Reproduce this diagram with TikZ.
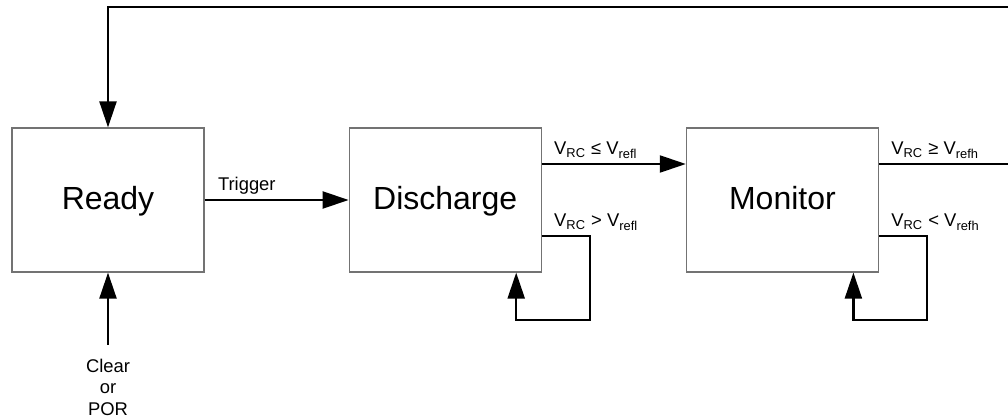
\documentclass[tikz,border=0pt]{standalone}
\usepackage{fontspec}
\setmainfont{Liberation Sans}
\usetikzlibrary{arrows.meta,positioning}

\newcommand{\vrc}{V\textsubscript{RC}}

\begin{document}
\begin{tikzpicture}[
  font=\fontsize{9.2pt}{10.75pt}\selectfont,
  state/.style={draw=black!55, line width=0.6pt, minimum width=96pt, minimum height=72pt,
                inner sep=0pt, text height=11pt, text depth=1pt,
                font=\fontsize{16pt}{18pt}\selectfont},
  lbl/.style={inner sep=0pt, anchor=base west},
  flow/.style={->, line width=1.1pt},
  node distance=72pt,
  >={Triangle[length=13pt, width=8.5pt]},
]
\useasboundingbox (0,0) rectangle (504pt,-208.5pt);
\node[state] (ready) at (54pt,-100pt) {Ready};
\node[state, right=of ready] (dis) {Discharge};
\node[state, right=of dis] (mon) {Monitor};
\node[below=36pt of ready, align=center, inner xsep=0pt, inner ysep=7pt] (clr) {Clear\\or\\POR};
% transitions
\draw[flow] (clr) -- (ready);
\draw[flow] (ready) -- (dis);
\node[lbl] (trig) at ([xshift=6.5pt,yshift=4.5pt]ready.east) {Trigger};
\draw[flow] ([yshift=18pt]dis.east) -- ([yshift=18pt]mon.west);
\node[lbl] (dlo) at ([xshift=6pt,yshift=22.5pt]dis.east) {\vrc{} ≤ V\textsubscript{refl}};
\draw[flow] ([yshift=-18pt]dis.east) -- ++(24pt,0) |- ([xshift=35.5pt,yshift=-23.5pt]dis.south)
  -- ([xshift=35.5pt]dis.south);
\node[lbl] (dhi) at ([xshift=6pt,yshift=-13.5pt]dis.east) {\vrc{} > V\textsubscript{refl}};
\draw[flow] ([yshift=-18pt]mon.east) -- ++(24pt,0) |- ([xshift=35.5pt,yshift=-23.5pt]mon.south)
  -- ([xshift=35.5pt]mon.south);
\node[lbl] (mlo) at ([xshift=6pt,yshift=-13.5pt]mon.east) {\vrc{} < V\textsubscript{refh}};
\draw[flow] ([yshift=18pt]mon.east) -- ([xshift=67pt,yshift=18pt]mon.east)
  |- ([yshift=60pt]ready.north) -- (ready.north);
\node[lbl] (mhi) at ([xshift=6pt,yshift=22.5pt]mon.east) {\vrc{} ≥ V\textsubscript{refh}};
\end{tikzpicture}
\end{document}
